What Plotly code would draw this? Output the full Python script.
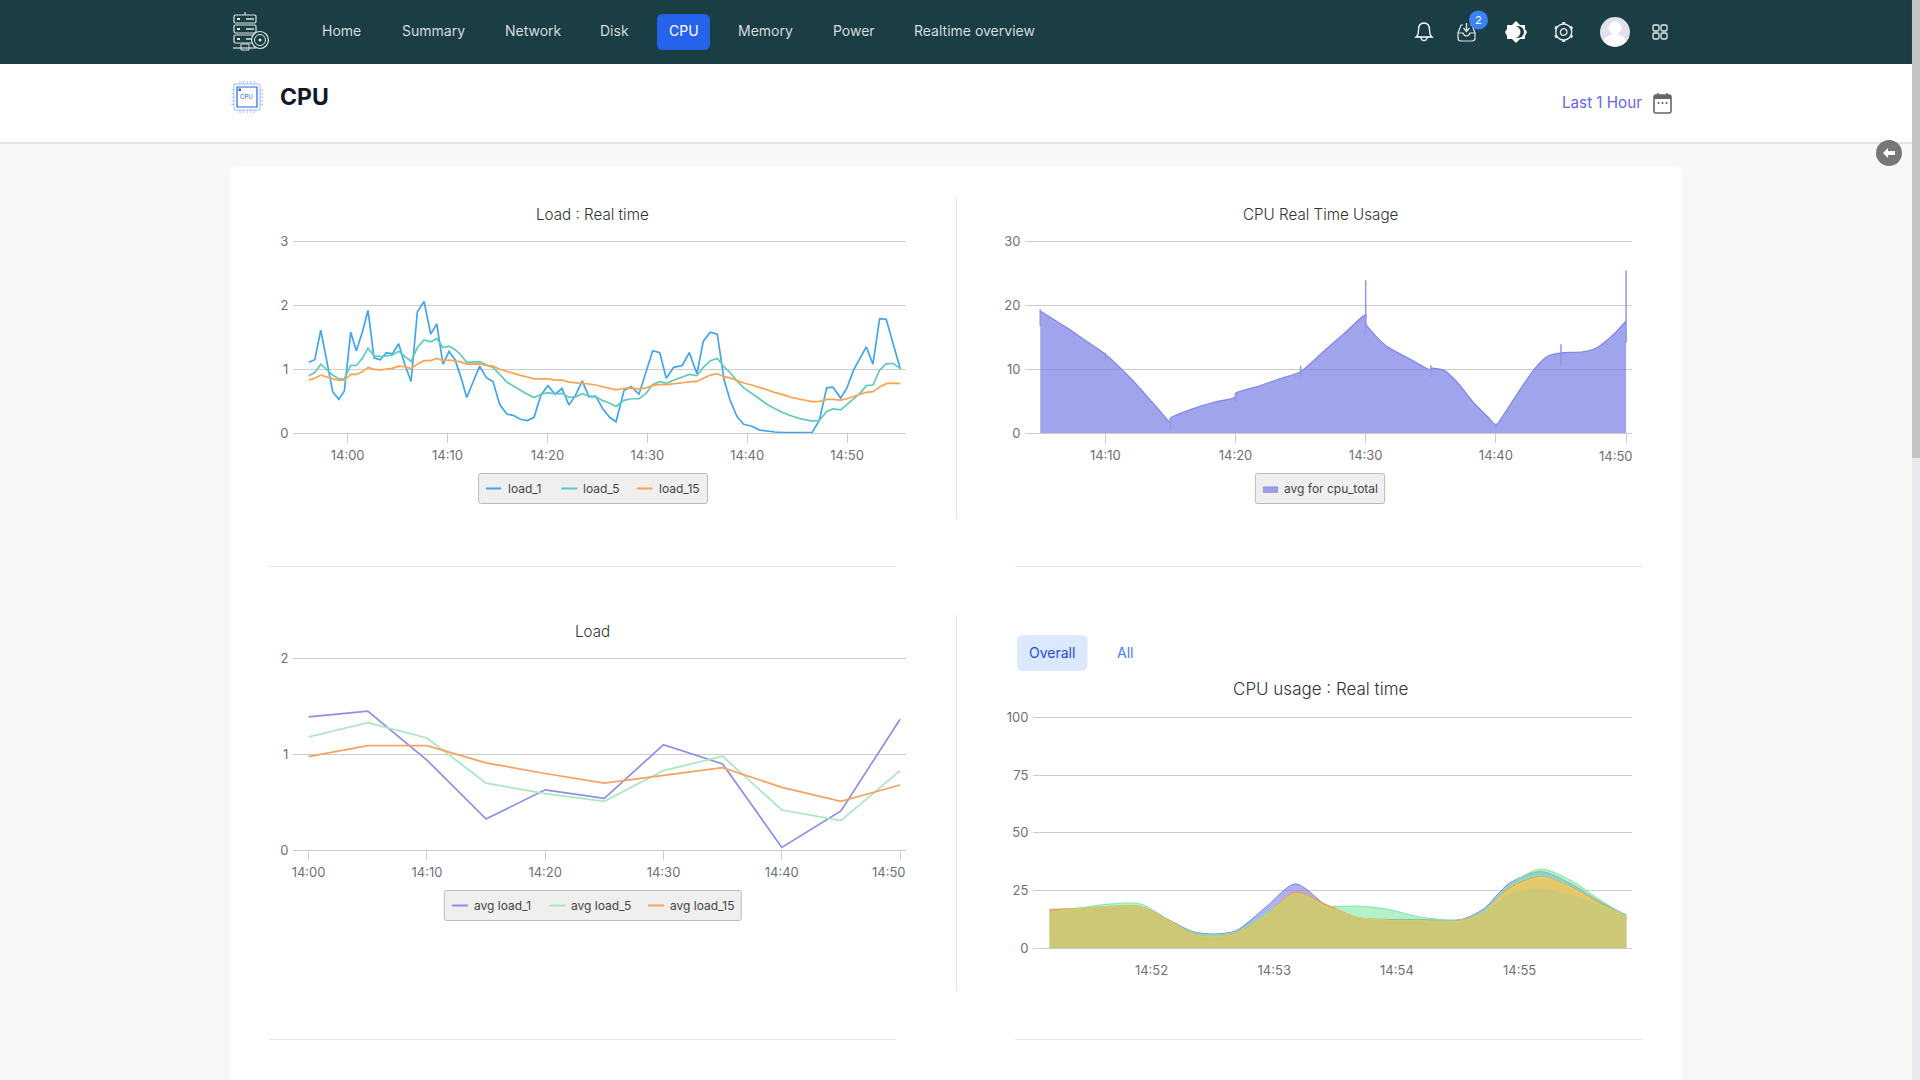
import plotly.graph_objects as go

W, H = 1920, 1080
FONT = "Inter"

# --- data ---
# minutes after 14:00
load_minutes = [-3.89, -3.29, -2.69, -2.09, -1.49, -0.89, -0.33, 0.31, 0.87, 1.47, 2.04, 2.64, 3.27, 3.87, 4.47,
                5.11, 5.72, 6.35, 6.98, 7.65, 8.32, 8.92, 9.55, 10.15, 10.75, 11.35, 11.92, 12.58, 13.22, 13.88,
                14.55, 15.23, 15.93, 16.59, 17.29, 17.99, 18.66, 19.36, 20.06, 20.76, 21.46, 22.16, 22.83, 23.49,
                24.16, 24.83, 25.56, 26.24, 26.87, 27.67, 28.40, 29.17, 29.84, 30.54, 31.24, 31.90, 32.64, 33.50,
                34.20, 34.97, 35.61, 36.31, 37.01, 37.68, 38.28, 38.98, 39.65, 40.45, 41.28, 42.01, 42.78, 43.61,
                44.45, 45.29, 46.49, 47.22, 47.96, 48.59, 49.36, 49.99, 50.66, 51.29, 51.92, 52.59, 53.26, 53.92,
                54.63, 55.33]
load_1 = [1.11, 1.15, 1.61, 1.12, 0.65, 0.53, 0.66, 1.58, 1.29, 1.58, 1.92, 1.18, 1.15, 1.26, 1.24,
          1.40, 1.08, 0.81, 1.90, 2.06, 1.55, 1.71, 1.08, 1.28, 1.15, 0.87, 0.56, 0.81, 1.05, 0.87,
          0.81, 0.45, 0.30, 0.28, 0.22, 0.20, 0.25, 0.60, 0.745, 0.61, 0.70, 0.44, 0.60, 0.82,
          0.57, 0.58, 0.38, 0.25, 0.18, 0.67, 0.73, 0.61, 0.94, 1.29, 1.26, 0.86, 1.03, 1.06,
          1.26, 0.93, 1.44, 1.58, 1.55, 0.84, 0.52, 0.26, 0.14, 0.11, 0.05, 0.03, 0.02, 0.01,
          0.01, 0.01, 0.01, 0.20, 0.71, 0.72, 0.55, 0.71, 0.99, 1.17, 1.35, 1.08, 1.79, 1.78,
          1.38, 1.005]
load_5 = [0.90, 0.95, 1.08, 1.00, 0.91, 0.85, 0.85, 1.06, 1.06, 1.17, 1.33, 1.21, 1.20, 1.21, 1.22,
          1.28, 1.21, 1.125, 1.34, 1.46, 1.43, 1.48, 1.34, 1.36, 1.31, 1.22, 1.11, 1.11, 1.12, 1.07,
          1.03, 0.92, 0.80, 0.74, 0.67, 0.61, 0.56, 0.61, 0.635, 0.615, 0.625, 0.56, 0.57, 0.62,
          0.58, 0.57, 0.51, 0.47, 0.42, 0.515, 0.54, 0.54, 0.62, 0.76, 0.81, 0.78, 0.83, 0.875,
          0.92, 0.90, 1.03, 1.135, 1.17, 1.04, 0.95, 0.82, 0.71, 0.625, 0.53, 0.45, 0.385, 0.32,
          0.27, 0.23, 0.19, 0.20, 0.34, 0.38, 0.365, 0.45, 0.55, 0.625, 0.745, 0.755, 0.985, 1.09,
          1.09, 1.01]
load_15 = [0.83, 0.86, 0.91, 0.875, 0.85, 0.83, 0.83, 0.92, 0.92, 0.96, 1.03, 1.00, 0.99, 1.005, 1.015,
           1.05, 1.04, 1.01, 1.08, 1.135, 1.135, 1.17, 1.135, 1.145, 1.135, 1.115, 1.08, 1.08, 1.085, 1.06,
           1.05, 1.00, 0.965, 0.94, 0.905, 0.88, 0.85, 0.85, 0.85, 0.83, 0.83, 0.80, 0.79, 0.79,
           0.77, 0.755, 0.725, 0.70, 0.68, 0.70, 0.71, 0.69, 0.71, 0.745, 0.765, 0.76, 0.77, 0.79,
           0.805, 0.81, 0.86, 0.91, 0.93, 0.885, 0.865, 0.82, 0.785, 0.755, 0.72, 0.68, 0.635, 0.605,
           0.56, 0.53, 0.495, 0.50, 0.53, 0.53, 0.52, 0.54, 0.58, 0.61, 0.64, 0.65, 0.725, 0.775,
           0.785, 0.775]

cpu_minutes = [5, 7, 8.5, 10, 12, 13.67, 15, 15, 16.67, 18.33, 20, 20, 21.67, 23.33, 25, 26.67, 28.33, 30, 30,
               30.83, 31.67, 33.33, 35, 35, 36, 37, 38.33, 39.5, 40, 40.5, 41.67, 43, 44, 45, 46.67, 47.67, 49, 50]
cpu_total = [19.17, 16.6, 14.5, 12.4, 8.5, 4.7, 1.72, 2.34, 3.8, 4.84, 5.68, 6.25, 7.3, 8.5, 9.64, 12.66, 15.6,
             18.6, 17.2, 15.1, 13.54, 11.7, 9.9, 10.16, 9.9, 8.07, 4.7, 2.3, 1.3, 2.6, 6.25, 10.16, 12.08, 12.6,
             12.76, 13.3, 15.4, 17.6]
spike_minutes = [5, 10, 15, 20, 25, 30, 35, 40, 45, 50]
spike_low = [16.82, 11.46, 0.68, 4.95, 8.85, 15.6, 8.85, 0.68, 10.68, 14.2]
spike_high = [19.43, 12.6, 2.34, 6.25, 10.57, 23.96, 10.68, 1.56, 13.96, 25.5]

avg_minutes = [0, 5, 10, 15, 20, 25, 30, 35, 40, 45, 50]
avg_load_1 = [1.39, 1.45, 0.94, 0.326, 0.63, 0.54, 1.10, 0.90, 0.03, 0.41, 1.365]
avg_load_5 = [1.18, 1.33, 1.17, 0.70, 0.59, 0.51, 0.83, 0.98, 0.42, 0.31, 0.83]
avg_load_15 = [0.975, 1.09, 1.09, 0.91, 0.80, 0.70, 0.78, 0.86, 0.656, 0.51, 0.68]

# minutes after 14:50
usage_minutes = [1.17, 1.417, 1.664, 1.91, 2.17, 2.336, 2.512, 2.689, 2.936, 3.173, 3.431, 3.678, 3.926, 4.173,
                 4.527, 4.703, 4.915, 5.173, 5.41, 5.657, 5.869]
usage_a = [16.3, 17.3, 18.2, 18.0, 11.5, 7.2, 6.2, 7.6, 18.0, 27.9, 18.3, 13.3, 12.5, 12.5, 12.5, 16.9, 28.1, 33.2,
           28.1, 20.2, 14.4]
usage_b = [16.6, 17.5, 19.2, 19.2, 11.3, 6.9, 5.8, 7.2, 15.2, 23.5, 18.3, 18.3, 16.9, 13.7, 12.3, 16.3, 27.4, 34.3,
           29.6, 20.9, 14.0]
usage_c = [16.9, 17.2, 18.0, 18.0, 11.3, 6.2, 5.0, 6.5, 14.4, 24.5, 18.8, 13.4, 12.3, 12.0, 12.0, 15.4, 26.0, 31.0,
           26.7, 19.5, 13.7]
usage_d = [15.5, 17.1, 18.1, 17.8, 10.9, 5.9, 4.9, 6.1, 14.2, 23.5, 17.8, 13.3, 12.1, 11.9, 11.8, 15.3, 25.5, 30.7,
           26.4, 19.0, 13.7]
usage_e = [15.4, 17.0, 18.0, 17.7, 10.8, 5.8, 4.8, 6.0, 14.1, 23.4, 17.7, 13.3, 12.0, 11.8, 11.7, 15.1, 23.4, 25.8,
           23.0, 18.7, 13.6]

menu_items = ["Home", "Summary", "Network", "Disk", "CPU", "Memory", "Power", "Realtime overview"]
menu_centers = [341.6, 433.5, 533, 614.7, 683.5, 765, 853.5, 974]

GRID = "#cccccc"
TICK_TEXT = "#6e7079"
TITLE_TEXT = "#333333"
NAV = "#1b3d44"
BLUE = "#2563eb"

shapes = []
annotations = []


def path(*tokens):
    # strings are svg commands, numbers are page pixels in x, y order
    out = []
    is_x = True
    for t in tokens:
        if isinstance(t, str):
            out.append(t)
        else:
            out.append(f"{t / W:.5f}" if is_x else f"{1 - t / H:.5f}")
            is_x = not is_x
    return " ".join(out)


def draw(d, fill=None, line=None, width=1):
    shapes.append(dict(type="path", path=d, xref="paper", yref="paper", layer="below",
                       fillcolor=fill or "rgba(0,0,0,0)",
                       line=dict(color=line or "rgba(0,0,0,0)", width=width if line else 0)))


def box(x0, y0, x1, y1, r=0, fill=None, line=None, width=1):
    if r:
        d = path("M", x0 + r, y0, "L", x1 - r, y0, "Q", x1, y0, x1, y0 + r, "L", x1, y1 - r,
                 "Q", x1, y1, x1 - r, y1, "L", x0 + r, y1, "Q", x0, y1, x0, y1 - r, "L", x0, y0 + r,
                 "Q", x0, y0, x0 + r, y0, "Z")
    else:
        d = path("M", x0, y0, "L", x1, y0, "L", x1, y1, "L", x0, y1, "Z")
    draw(d, fill, line, width)


def seg(x0, y0, x1, y1, color, width=1):
    draw(path("M", x0, y0, "L", x1, y1), None, color, width)


def dot(cx, cy, r, fill=None, line=None, width=1):
    shapes.append(dict(type="circle", xref="paper", yref="paper", layer="below",
                       x0=(cx - r) / W, x1=(cx + r) / W, y0=1 - (cy + r) / H, y1=1 - (cy - r) / H,
                       fillcolor=fill or "rgba(0,0,0,0)",
                       line=dict(color=line or "rgba(0,0,0,0)", width=width if line else 0)))


def label(x, y, text, size=12, color=TICK_TEXT, anchor="center", weight=None):
    annotations.append(dict(x=x / W, y=1 - y / H, xref="paper", yref="paper", text=text, showarrow=False,
                            xanchor=anchor, yanchor="middle", borderpad=0,
                            font=dict(family=FONT, size=size, color=color, weight=weight)))


# page furniture
box(0, 0, 1912, 64, fill=NAV)
box(0, 64, 1912, 142, fill="#ffffff")
box(0, 142, 1912, 144, fill="#e4e4e4")
box(230, 166, 1682, 1100, r=8, fill="#ffffff")
box(1912, 0, 1920, 1080, fill="#e9e9ed")
box(1912, 0, 1920, 458, fill="#c4c4c6")
dot(1889, 153, 13, fill="#777777")
draw(path("M", 1883, 153, "L", 1888, 148, "L", 1888, 151, "L", 1895, 151, "L", 1895, 155, "L", 1888, 155,
          "L", 1888, 158, "Z"), fill="#ffffff")

# logo
for top in [15, 25, 35]:
    box(234, top, 256, top + 8, r=1.5, line="#dfe6e6", width=1.2)
    box(237, top + 3, 240, top + 5, fill="#dfe6e6")
    seg(246, top + 4, 254, top + 4, "#dfe6e6", 1.5)
seg(233, 48, 256, 48, "#dfe6e6", 1.2)
seg(245, 12, 245, 15, "#dfe6e6", 1.2)
box(241, 44, 249, 50, line="#dfe6e6", width=1)
dot(260, 40, 8.5, fill=NAV, line="#dfe6e6", width=1.2)
dot(260, 40, 5.5, line="#dfe6e6", width=1)
dot(260, 40, 1.5, fill="#dfe6e6")

# menu
box(657, 14, 710, 50, r=6, fill=BLUE)
for name, cx in zip(menu_items, menu_centers):
    label(cx, 31, name, 14, "#ffffff" if name == "CPU" else "#d5dcdd")

# right hand icons
ICON = "#ffffff"
draw(path("M", 1416, 37, "Q", 1418.5, 35, 1418.5, 30, "Q", 1418.5, 23, 1424, 23, "Q", 1429.5, 23, 1429.5, 30,
          "Q", 1429.5, 35, 1432, 37, "Z"), None, ICON, 1.3)
draw(path("M", 1421, 37, "Q", 1421, 40.5, 1424, 40.5, "Q", 1427, 40.5, 1427, 37), None, ICON, 1.3)
draw(path("M", 1458, 33, "L", 1458, 38, "Q", 1458, 41, 1461, 41, "L", 1472, 41, "Q", 1475, 41, 1475, 38, "L", 1475, 33,
          "L", 1470, 33, "Q", 1469, 36, 1466.5, 36, "Q", 1464, 36, 1463, 33, "Z"), None, "#dfe6e6", 1.2)
draw(path("M", 1458, 33, "L", 1461, 25, "L", 1463, 25), None, "#dfe6e6", 1.2)
draw(path("M", 1475, 33, "L", 1472, 25, "L", 1470, 25), None, "#dfe6e6", 1.2)
seg(1466.5, 23, 1466.5, 31, "#dfe6e6", 1.4)
draw(path("M", 1463.5, 28, "L", 1466.5, 31.5, "L", 1469.5, 28), None, "#dfe6e6", 1.3)
dot(1478.5, 20, 9.5, fill="#3b82f6")
label(1478.5, 20, "2", 11, "#ffffff")
draw(path("M", 1516, 21, "L", 1520, 25, "L", 1525, 25, "L", 1525, 29, "L", 1527, 32, "L", 1525, 36, "L", 1525, 39,
          "L", 1520, 39, "L", 1516, 43, "L", 1512, 39, "L", 1507, 39, "L", 1507, 36, "L", 1505, 32, "L", 1507, 29,
          "L", 1507, 25, "L", 1512, 25, "Z"), fill=ICON)
dot(1518, 32, 6, fill=NAV)
dot(1514.5, 32, 6, fill=ICON)
dot(1563.7, 32, 8, line="#e6ecec", width=1.4)
dot(1563.7, 32, 3.3, line="#e6ecec", width=1.3)
for a, b, c, d in [(1563.7, 22, 1563.7, 24), (1563.7, 40, 1563.7, 42), (1555, 27, 1556.8, 28), (1570.6, 36, 1572.4, 37),
                   (1555, 37, 1556.8, 36), (1570.6, 28, 1572.4, 27)]:
    seg(a, b, c, d, "#e6ecec", 3)
dot(1615, 32, 15, fill="#dfe2ec")
dot(1615, 28, 6.5, fill="#ffffff")
draw(path("M", 1603, 41, "Q", 1606, 35, 1615, 34, "Q", 1624, 35, 1627, 41, "Q", 1615, 52, 1603, 41, "Z"), fill="#ffffff")
for gx, gy in [(1653, 25), (1661, 25), (1653, 33), (1661, 33)]:
    box(gx, gy, gx + 6, gy + 6, r=1.5, line="#e6ecec", width=1.3)

# header row
box(234, 84, 260, 110, line="#a9bdf5", width=1)
box(237, 87, 257, 107, line=BLUE, width=1.2)
box(238.5, 88.5, 241, 91, fill=BLUE)
for k in range(5):
    seg(240 + 3.6 * k, 81, 240 + 3.6 * k, 84, "#a9bdf5", 1)
    seg(240 + 3.6 * k, 110, 240 + 3.6 * k, 113, "#a9bdf5", 1)
    seg(231.5, 90 + 3.6 * k, 234, 90 + 3.6 * k, "#a9bdf5", 1)
    seg(260, 90 + 3.6 * k, 263, 90 + 3.6 * k, "#a9bdf5", 1)
label(247, 97, "CPU", 6, BLUE)
label(278.5, 97, "CPU", 23, "#111827", "left", 700)
label(1643, 102, "Last 1 Hour", 15.2, "#6366f1", "right")
box(1654, 95, 1671, 113, r=2, line="#666666", width=1.6)
box(1654, 95, 1671, 99, fill="#666666")
seg(1658, 93, 1658, 97, "#666666", 1.6)
seg(1667, 93, 1667, 97, "#666666", 1.6)
for k in [1658.5, 1662.5, 1666.5]:
    box(k - 0.8, 102, k + 0.8, 104, fill="#666666")

# dividers inside the card
DIVIDER = "#e6e6e6"
seg(956.5, 198, 956.5, 519, DIVIDER)
seg(956.5, 615, 956.5, 991, DIVIDER)
for level in [566.5, 1039.5]:
    seg(269, level, 896, level, DIVIDER)
    seg(1015, level, 1642, level, DIVIDER)

# chart titles and the tabs of the last one
label(592.6, 214, "Load : Real time", 15.2, TITLE_TEXT, weight=300)
label(1320, 214, "CPU Real Time Usage", 15.2, TITLE_TEXT, weight=300)
label(592.6, 631, "Load", 15.2, TITLE_TEXT, weight=300)
label(1320, 689, "CPU usage : Real time", 17, TITLE_TEXT, weight=300)
box(1017, 635, 1087.5, 671, r=6, fill="#dbe8fe")
label(1052, 652, "Overall", 14, "#1d4ed8")
label(1125.3, 652, "All", 14, "#3b82f6")

# hand placed labels where the source pulls the last tick label inwards
label(1615.7, 455.7, "14:50", 13)
label(889, 872, "14:50", 13)

# legends
LEGEND_TEXT = "#444444"
LOAD_BLUE, LOAD_TEAL, LOAD_ORANGE = "#42a5f0", "#5ecbbd", "#ffa24d"
AVG_PURPLE, AVG_GREEN, AVG_ORANGE = "#8a8fe8", "#a8e8bd", "#f5a262"
CPU_AREA = "rgba(119,125,228,0.7)"
box(478.6, 473.5, 707.5, 503.5, r=2, fill="#efefef", line="#bbbbbb")
for x0, x1, tx, name, c in [(486, 501, 507, "load_1", LOAD_BLUE), (561.4, 577.4, 582, "load_5", LOAD_TEAL),
                            (637, 652.5, 658, "load_15", LOAD_ORANGE)]:
    seg(x0, 488.5, x1, 488.5, c, 2)
    label(tx, 488.5, name, 12, LEGEND_TEXT, "left")
box(1255.4, 473.5, 1384.6, 503.5, r=2, fill="#efefef", line="#bbbbbb")
box(1263, 487, 1278, 493, fill=CPU_AREA)
seg(1263, 487, 1278, 487, "#8489e8", 1)
label(1283, 488.5, "avg for cpu_total", 12, LEGEND_TEXT, "left")
box(444.3, 890.5, 741.3, 920.5, r=2, fill="#efefef", line="#bbbbbb")
for x0, x1, tx, name, c in [(452, 468, 472.5, "avg load_1", AVG_PURPLE), (549.7, 565.7, 570, "avg load_5", AVG_GREEN),
                            (648, 664, 668.5, "avg load_15", AVG_ORANGE)]:
    seg(x0, 905.5, x1, 905.5, c, 2)
    label(tx, 905.5, name, 12, LEGEND_TEXT, "left")

fig = go.Figure()


def xdomain(left, right):
    return [left / W, right / W]


def ydomain(bottom, top):
    return [1 - bottom / H, 1 - top / H]


def x_axis(n, left, right, xrange, tickvals, ticktext, ticklen=9, tickcolor=GRID):
    return {f"xaxis{n}": dict(domain=xdomain(left, right), range=xrange, anchor=f"y{n}", tickmode="array",
                              tickvals=tickvals, ticktext=ticktext, ticks="outside", ticklen=ticklen,
                              tickcolor=tickcolor, tickwidth=1, showgrid=False, zeroline=False, showline=True,
                              linecolor=GRID, linewidth=1, ticklabelstandoff=1,
                              tickfont=dict(family=FONT, size=13, color=TICK_TEXT))}


def y_axis(n, bottom, top, ymax, tickvals):
    # 2px of headroom, plotly drops a gridline sitting right on the end of the range
    headroom = (bottom - top + 2) / (bottom - top)
    return {f"yaxis{n}": dict(domain=ydomain(bottom, top - 2), range=[0, ymax * headroom], anchor=f"x{n}", tickmode="array",
                              tickvals=tickvals, ticks="outside", ticklen=1, tickcolor="rgba(0,0,0,0)",
                              showgrid=True, gridcolor=GRID, gridwidth=1, zeroline=False, showline=False,
                              tickfont=dict(family=FONT, size=13, color=TICK_TEXT))}


# Load : Real time
for values, color, name in [(load_1, LOAD_BLUE, "load_1"), (load_5, LOAD_TEAL, "load_5"), (load_15, LOAD_ORANGE, "load_15")]:
    fig.add_trace(go.Scatter(x=load_minutes, y=values, name=name, mode="lines", xaxis="x", yaxis="y",
                             line=dict(color=color, width=1.7)))

# CPU Real Time Usage
fig.add_trace(go.Scatter(x=cpu_minutes, y=cpu_total, name="avg for cpu_total", mode="lines", xaxis="x2", yaxis="y2",
                         fill="tozeroy", fillcolor=CPU_AREA,
                         line=dict(color="#8489e8", width=1.3, shape="spline", smoothing=0.7)))
spike_x, spike_y = [], []
for m, lo, hi in zip(spike_minutes, spike_low, spike_high):
    spike_x += [m, m, None]
    spike_y += [lo, hi, None]
fig.add_trace(go.Scatter(x=spike_x, y=spike_y, mode="lines", xaxis="x2", yaxis="y2", showlegend=False,
                         line=dict(color="#9095ea", width=1.5)))

# Load
for values, color, name in [(avg_load_1, AVG_PURPLE, "avg load_1"), (avg_load_5, AVG_GREEN, "avg load_5"),
                            (avg_load_15, AVG_ORANGE, "avg load_15")]:
    fig.add_trace(go.Scatter(x=avg_minutes, y=values, name=name, mode="lines", xaxis="x3", yaxis="y3",
                             line=dict(color=color, width=1.7)))

# CPU usage : Real time
for values, fill, color in [(usage_a, "rgba(122,127,230,0.6)", "#7a7fe6"), (usage_b, "rgba(130,230,163,0.6)", "#82e6a3"),
                            (usage_c, "rgba(242,160,92,0.6)", "#f2a05c"), (usage_d, "rgba(245,213,87,0.6)", "#e5d95e"),
                            (usage_e, "rgba(186,200,125,0.6)", "#c9cf78")]:
    fig.add_trace(go.Scatter(x=usage_minutes, y=values, mode="lines", xaxis="x4", yaxis="y4", fill="tozeroy",
                             fillcolor=fill, line=dict(color=color, width=1, shape="spline", smoothing=0.8)))

layout = dict(width=W, height=H, autosize=False, margin=dict(l=0, r=0, t=0, b=0, autoexpand=False), showlegend=False,
              paper_bgcolor="#f7f7f7", plot_bgcolor="rgba(0,0,0,0)", font=dict(family=FONT),
              shapes=shapes, annotations=annotations, hovermode="x")
layout.update(x_axis("", 293, 906, [-5.47, 55.9], [0, 10, 20, 30, 40, 50], ["14:00", "14:10", "14:20", "14:30", "14:40", "14:50"]))
layout.update(y_axis("", 433.3, 241.3, 3, [0, 1, 2, 3]))
layout.update(x_axis(2, 1025, 1631.8, [3.83, 50.44], [10, 20, 30, 40, 50], ["14:10", "14:20", "14:30", "14:40", " "]))
layout.update(y_axis(2, 433.3, 241.8, 30, [0, 10, 20, 30]))
layout.update(x_axis(3, 293, 906, [-1.32, 50.5], [0, 10, 20, 30, 40, 50], ["14:00", "14:10", "14:20", "14:30", "14:40", " "]))
layout.update(y_axis(3, 850.3, 658.3, 2, [0, 1, 2]))
layout.update(x_axis(4, 1033, 1631.8, [1.034, 5.914], [2, 3, 4, 5], ["14:52", "14:53", "14:54", "14:55"], tickcolor="rgba(0,0,0,0)"))
layout.update(y_axis(4, 948.3, 717.3, 100, [0, 25, 50, 75, 100]))
layout["xaxis"]["anchor"] = "y"
layout["yaxis"]["anchor"] = "x"
fig.update_layout(**layout)

fig.write_html("out.html", config={"displayModeBar": False},
               post_script="document.body.style.margin='0';document.body.style.overflow='hidden';")
